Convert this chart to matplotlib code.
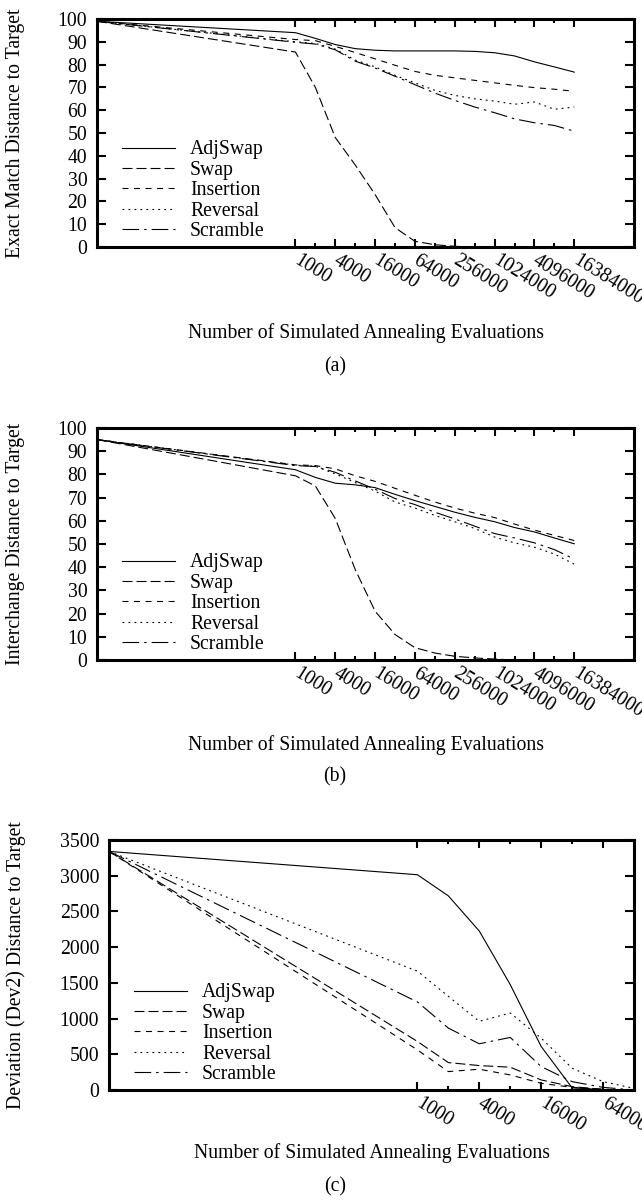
import numpy as np
import matplotlib.pyplot as plt

plt.rcParams['font.family'] = ['Liberation Serif', 'DejaVu Serif']
plt.rcParams['lines.scale_dashes'] = False

# ---- data ----
series_names = ['AdjSwap', 'Swap', 'Insertion', 'Reversal', 'Scramble']

evals_long = [1, 1000, 2000, 4000, 8000, 16000, 32000, 64000, 128000, 256000,
              512000, 1024000, 2048000, 4096000, 8192000, 16384000]
evals_short = [1, 1000, 2000, 4000, 8000, 16000, 32000, 64000, 128000]

# (a) exact match distance
exact_adjswap = [99, 94, 91.5, 88.8, 87, 86.3, 86, 86, 86, 86, 85.8, 85.2, 83.8, 81.2, 79, 76.7]
exact_swap = [99, 85.5, 70, 48, 36, 23, 8.5, 2.5, 1, 0.3, 0, 0, 0, 0, 0, 0]
exact_insertion = [99, 91, 90.5, 88, 85.3, 82.5, 79.7, 77, 75.3, 74.2, 73.1, 72, 70.9, 69.9, 69.2, 68.3]
exact_reversal = [99, 90, 89.3, 86.8, 82, 79, 75.3, 72, 68.7, 66.5, 65, 64, 62.6, 63.6, 60.4, 61.4]
exact_scramble = [99, 89.8, 89, 86.5, 81.5, 78.5, 74.9, 71.2, 67.5, 64.3, 61.4, 58.9, 56.2, 54.5, 53.3, 50.8]

# (b) interchange distance
inter_adjswap = [95, 82, 78.7, 76.2, 75.5, 74.3, 71.4, 68.7, 66.2, 63.7, 61.5, 59.6, 57.1, 55.2, 52.6, 50.1]
inter_swap = [95, 79.4, 75, 61, 39, 21, 11, 5.3, 3, 1.6, 0.9, 0.4, 0, 0, 0, 0]
inter_insertion = [95, 84.1, 83.8, 82.4, 79.4, 77, 74, 71, 68.1, 65.5, 63.3, 61.4, 58.6, 56, 53.7, 51.5]
inter_reversal = [95, 84, 83.5, 80.2, 76.5, 72.8, 68.1, 65.5, 62.3, 59.6, 56.7, 53, 50.5, 48.6, 45.7, 41.3]
inter_scramble = [95, 83.8, 83.4, 80.9, 77.2, 73.6, 69.6, 67, 63.7, 60.8, 57.7, 54.5, 52.6, 50.5, 47.6, 43.5]

# (c) deviation (Dev2) distance
dev_adjswap = [3340, 3014, 2718, 2226, 1476, 609, 30, 5, 0]
dev_swap = [3340, 680, 384, 342, 319, 141, 47, 9, 0]
dev_insertion = [3340, 562, 258, 291, 211, 94, 37, 9, 0]
dev_reversal = [3340, 1664, 1312, 961, 1078, 726, 305, 117, 23]
dev_scramble = [3340, 1233, 867, 647, 736, 328, 117, 37, 0]

ticks_long = [1000, 4000, 16000, 64000, 256000, 1024000, 4096000, 16384000]
minor_long = [2000, 8000, 32000, 128000, 512000, 2048000, 8192000]
ticks_short = [1000, 4000, 16000, 64000]
minor_short = [2000, 8000, 32000]

dash_styles = ['-', (0, (7.2, 2.9)), (0, (4.3, 4.0)), (0, (1.3, 3.0)), (0, (12, 3.6, 1.8, 3.6))]

W, H = 642, 1201
fig = plt.figure(figsize=(W / 100, H / 100), dpi=100)
FS = 14.2


def make_axes(left, top, right, bottom):
    return fig.add_axes([left / W, 1 - bottom / H, (right - left) / W, (bottom - top) / H])


def draw_panel(ax, x, ys, xmax, ylim, yticks, major, minor, leg_pos):
    for y, name, ls in zip(ys, series_names, dash_styles):
        ax.plot(x, y, color='black', lw=0.8, linestyle=ls, label=name)
    ax.set_xscale('log', base=2)
    ax.set_xlim(1, xmax)
    ax.set_ylim(*ylim)
    ax.set_yticks(yticks)
    ax.set_xticks(major)
    ax.set_xticks(minor, minor=True)
    ax.set_xticklabels([str(v) for v in major], rotation=-32, ha='left', va='center',
                       rotation_mode='anchor', fontsize=FS)
    ax.tick_params(axis='y', labelsize=FS, direction='in', length=6.5, width=1.5,
                   right=True, pad=7)
    ax.tick_params(axis='x', which='major', direction='in', length=6, width=1.5,
                   top=True, pad=9)
    ax.tick_params(axis='x', which='minor', direction='in', length=3.2, width=1.5,
                   top=True, labelbottom=False)
    for s in ax.spines.values():
        s.set_linewidth(2.2)
    ax.legend(loc='lower left', bbox_to_anchor=leg_pos, frameon=False, fontsize=FS,
              borderpad=0, borderaxespad=0, handlelength=2.7, handletextpad=0.75,
              labelspacing=0.07)


panels = [
    (make_axes(97, 19, 634, 247), evals_long,
     [exact_adjswap, exact_swap, exact_insertion, exact_reversal, exact_scramble],
     131072000, (0, 100), range(0, 101, 10), ticks_long, minor_long,
     'Exact Match Distance to Target', 122, 333, '(a)', 367),
    (make_axes(97, 428, 634, 660), evals_long,
     [inter_adjswap, inter_swap, inter_insertion, inter_reversal, inter_scramble],
     131072000, (0, 100), range(0, 101, 10), ticks_long, minor_long,
     'Interchange Distance to Target', 122, 745, '(b)', 777),
    (make_axes(109, 840, 634, 1090), evals_short,
     [dev_adjswap, dev_swap, dev_insertion, dev_reversal, dev_scramble],
     128000, (0, 3500), range(0, 3501, 500), ticks_short, minor_short,
     'Deviation (Dev2) Distance to Target', 134, 1153, '(c)', 1187),
]

for ax, x, ys, xmax, ylim, yt, major, minor, ylabel, leg_left, xl_y, tag, tag_y in panels:
    pos = ax.get_position()
    width_px = pos.width * W
    height_px = pos.height * H
    leg_x = (leg_left - pos.x0 * W) / width_px
    leg_y = 6 / height_px
    draw_panel(ax, x, ys, xmax, ylim, yt, major, minor, (leg_x, leg_y))
    fig.text(16 / W, pos.y0 + pos.height / 2, ylabel, rotation=90,
             ha='center', va='center', fontsize=FS)
    fig.text(pos.x0 + pos.width / 2, 1 - xl_y / H, 'Number of Simulated Annealing Evaluations',
             ha='center', va='center', fontsize=FS)
    fig.text(335 / W, 1 - tag_y / H, tag, ha='center', va='center', fontsize=FS)

fig.savefig('out.png', dpi=100)
